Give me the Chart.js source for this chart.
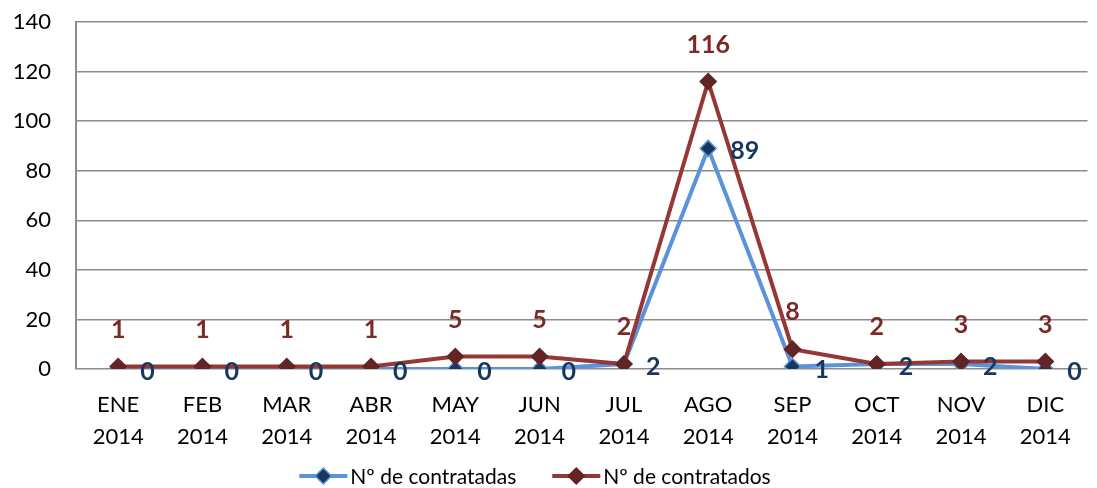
<!DOCTYPE html>
<html><head><meta charset="utf-8">
<script src="https://cdn.jsdelivr.net/npm/chart.js@4.4.0/dist/chart.umd.min.js"></script>
<style>html,body{margin:0;padding:0;background:#fff;}canvas{display:block;}</style>
</head><body>
<canvas id="c" width="1097" height="488"></canvas>
<script>
const months = ['ENE','FEB','MAR','ABR','MAY','JUN','JUL','AGO','SEP','OCT','NOV','DIC'];
const year = '2014';
const contratadas = [0,0,0,0,0,0,2,89,1,2,2,0];
const contratados = [1,1,1,1,5,5,2,116,8,2,3,3];
const seriesNames = ['Nº de contratadas','Nº de contratados'];
const yTicks = [0,20,40,60,80,100,120,140];

const FONT = 'Lato, "Liberation Sans", sans-serif';
const BLUE = '#5B93DB', BLUE_PT = '#17375E';
const RED = '#953735', RED_PT = '#632523';

const labelsPlugin = {
  id: 'labels',
  afterDatasetsDraw(chart) {
    const ctx = chart.ctx;
    ctx.save();
    ctx.font = 'bold 25px ' + FONT;
    const mr = chart.getDatasetMeta(1);
    ctx.fillStyle = '#7B2A28'; ctx.textAlign = 'center'; ctx.textBaseline = 'middle';
    mr.data.forEach((p, i) => ctx.fillText(String(contratados[i]), p.x, p.y - 37));
    const mb = chart.getDatasetMeta(0);
    ctx.fillStyle = '#17375E'; ctx.textAlign = 'left';
    mb.data.forEach((p, i) => ctx.fillText(String(contratadas[i]), p.x + 22, p.y + 3));
    ctx.restore();
  },
  afterDraw(chart) {
    const ctx = chart.ctx;
    ctx.save();
    ctx.font = '21px ' + FONT;
    ctx.textBaseline = 'middle';
    const y = 476;
    const items = [[BLUE, BLUE_PT, BLUE, seriesNames[0]], [RED, RED_PT, RED_PT, seriesNames[1]]];
    const lineW = 48, gap = 3, between = 36;
    const widths = items.map(it => lineW + gap + ctx.measureText(it[3]).width);
    let x = 535 - (widths[0] + widths[1] + between) / 2;
    items.forEach((it, k) => {
      ctx.strokeStyle = it[0]; ctx.lineWidth = 4;
      ctx.beginPath(); ctx.moveTo(x, y); ctx.lineTo(x + lineW, y); ctx.stroke();
      const cx = x + lineW / 2, r = 8;
      ctx.beginPath(); ctx.moveTo(cx, y - r); ctx.lineTo(cx + r, y); ctx.lineTo(cx, y + r); ctx.lineTo(cx - r, y); ctx.closePath();
      ctx.fillStyle = it[1]; ctx.fill(); ctx.strokeStyle = it[2]; ctx.lineWidth = 1.5; ctx.stroke();
      ctx.fillStyle = '#000'; ctx.textAlign = 'left';
      ctx.fillText(it[3], x + lineW + gap, y + 1);
      x += widths[k] + between;
    });
    ctx.restore();
  }
};

new Chart(document.getElementById('c'), {
  type: 'line',
  data: {
    labels: months.map(m => [m, year]),
    datasets: [
      { label: seriesNames[0], data: contratadas, borderColor: BLUE, borderWidth: 4,
        pointStyle: 'rectRot', pointRadius: 8, pointBackgroundColor: BLUE_PT, pointBorderColor: BLUE,
        pointBorderWidth: 1.5, tension: 0, order: 1 },
      { label: seriesNames[1], data: contratados, borderColor: RED, borderWidth: 4,
        pointStyle: 'rectRot', pointRadius: 8, pointBackgroundColor: RED_PT, pointBorderColor: RED_PT,
        pointBorderWidth: 1.5, tension: 0, order: 0 }
    ]
  },
  options: {
    responsive: false, animation: false,
    layout: { padding: { top: 22, right: 0, left: 0, bottom: 0 } },
    plugins: { legend: { display: false }, tooltip: { enabled: false } },
    scales: {
      x: {
        offset: true,
        grid: { display: false, drawTicks: false },
        border: { display: false },
        ticks: { color: '#000', font: { family: FONT, size: 22, lineHeight: 32 / 22 }, padding: 20, maxRotation: 0, autoSkip: false },
        afterFit(s) { s.height = 119; s.paddingLeft = 0; s.paddingRight = 0; }
      },
      y: {
        min: 0, max: 140,
        afterBuildTicks(s) { s.ticks = yTicks.map(v => ({ value: v })); },
        grid: { color: '#8C8C8C', lineWidth: 1.5, drawTicks: false },
        border: { display: true, color: '#8C8C8C', width: 2 },
        ticks: { color: '#000', font: { family: FONT, size: 22 }, padding: 25 },
        afterFit(s) { s.width = 76; s.paddingTop = 0; s.paddingBottom = 0; }
      }
    }
  },
  plugins: [labelsPlugin]
});
</script>
</body></html>
